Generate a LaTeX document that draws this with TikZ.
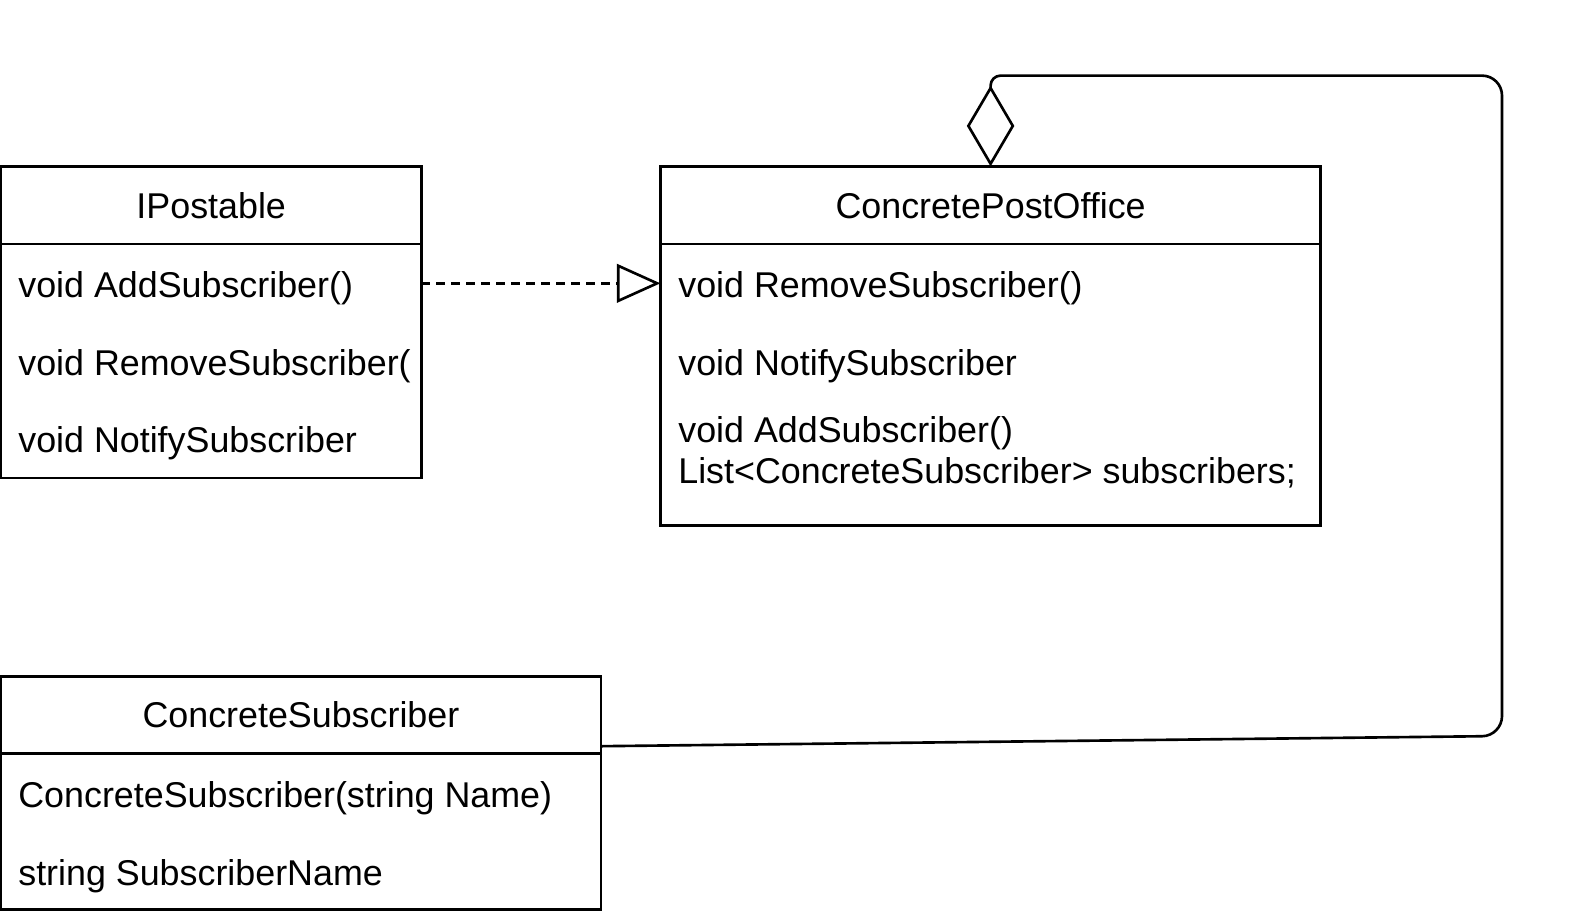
\documentclass[tikz,border=0pt]{standalone}
\usepackage{fontspec}
\setmainfont{Liberation Sans}
\usetikzlibrary{positioning,arrows.meta,calc}

\newcommand{\umlfont}{\fontsize{20.4}{23.5}\selectfont}

\tikzset{
  umlhead/.style={draw, line width=1.5pt, inner sep=0pt, outer sep=0pt,
    minimum height=1.552cm, font=\umlfont},
  umlbody/.style={draw, line width=1.5pt, inner sep=0pt, outer sep=0pt},
  member/.style={anchor=west, inner sep=0pt, font=\umlfont, align=left},
  umlline/.style={line width=1.5pt},
}

\begin{document}
\begin{tikzpicture}[x=0.02cm, y=-0.02cm]
  \useasboundingbox (0,0) rectangle (1581,921);
  % Interface IPostable
  \node[umlhead, anchor=north west, minimum width=8.41cm] (iphead) at (1,166.4) {IPostable};
  \node[umlbody, below=0pt of iphead, minimum width=8.41cm, minimum height=4.68cm] (ipbody) {};
  \node[member] (ipadd) at (18,288.3) {void AddSubscriber()};
  \node[member] (iprem) at (18,366) {void RemoveSubscriber(};
  \node[member] (ipnot) at (18,443.6) {void NotifySubscriber};
  % Class ConcretePostOffice
  \node[umlhead, anchor=north west, minimum width=13.21cm] (cpohead) at (660.4,166.4) {ConcretePostOffice};
  \node[umlbody, below=0pt of cpohead, minimum width=13.21cm, minimum height=5.626cm] (cpobody) {};
  \node[member] (cporem) at (678,288.3) {void RemoveSubscriber()};
  \node[member] (cponot) at (678,366) {void NotifySubscriber};
  \node[member] (cpoadd) at (678,452.2) {void AddSubscriber()\\List<ConcreteSubscriber> subscribers;};
  % Class ConcreteSubscriber
  \node[umlhead, anchor=north west, minimum width=12cm, minimum height=1.532cm] (cshead) at (1,676.6) {ConcreteSubscriber};
  \node[umlbody, below=0pt of cshead, minimum width=12cm, minimum height=3.126cm] (csbody) {};
  \node[member] (csctor) at (18,798.5) {ConcreteSubscriber(string Name)};
  \node[member] (csname) at (18,876.2) {string SubscriberName};
  % Realization
  \coordinate (realy) at (0,283.3);
  \draw[umlline, dash pattern=on 0.18cm off 0.12cm, -{Triangle[open, length=0.87cm, width=0.77cm]}]
    (ipbody.east |- realy) -- (cpobody.west |- realy);
  % Aggregation
  \draw[umlline, rounded corners=0.4cm, -{Diamond[open, length=1.62cm, width=0.95cm]}]
    ($(cshead.south east)+(0,-7)$) -- (1502,736) -- (1502,75.6)
    [rounded corners=0.2cm] -- (cpohead.north |- 0,75.6) -- (cpohead.north);
\end{tikzpicture}
\end{document}
